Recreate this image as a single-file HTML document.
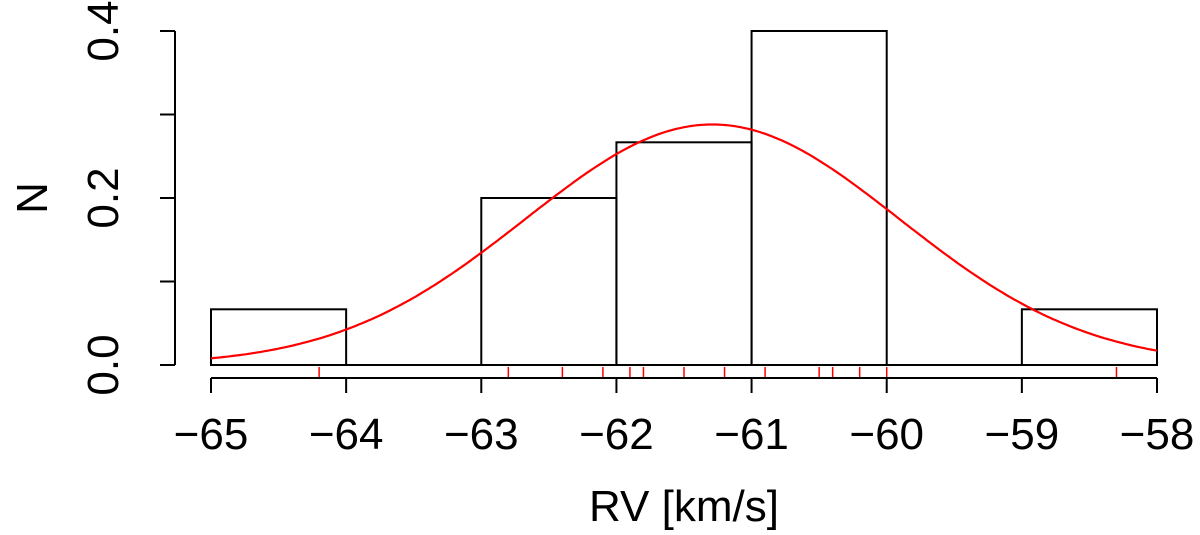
<!DOCTYPE html>
<html><head><meta charset="utf-8"><style>
html,body{margin:0;padding:0;background:#fff;}
svg{display:block;font-family:"Liberation Sans",Arial,sans-serif;}
</style></head><body>
<svg id="chart" width="1200" height="535" viewBox="0 0 1200 535">
<g id="bars"></g>
<g id="rug"></g>
<g id="curve"></g>
<g id="xaxis"></g>
<g id="yaxis"></g>
<text x="684" y="521" font-size="44" text-anchor="middle">RV [km/s]</text>
<text transform="translate(47,198) rotate(-90)" font-size="44" text-anchor="middle">N</text>
</svg>
<script>
const binEdges=[-65,-64,-63,-62,-61,-60,-59,-58];
const densities=[0.0667,0,0.2,0.2667,0.4,0,0.0667];
const rugValues=[-64.2,-62.8,-62.4,-62.1,-61.9,-61.8,-61.5,-61.2,-60.9,-60.5,-60.4,-60.2,-60.0,-58.3];
const fitMean=[-61.29];
const fitSd=[1.385];
const xTicks=[-65,-64,-63,-62,-61,-60,-59,-58];
const yTicks=[0,0.1,0.2,0.3,0.4];
const yLabels=["0.0","","0.2","","0.4"];

const NS="http://www.w3.org/2000/svg";
const X=v=>211+(v+65)*(1157-211)/7;
const Y=v=>365-v*(365-31)/0.4;
function mk(tag,attrs,parent){const e=document.createElementNS(NS,tag);for(const k in attrs)e.setAttribute(k,attrs[k]);parent.appendChild(e);return e;}

const bars=document.getElementById('bars');
densities.forEach((d,i)=>{
  if(d<=0)return;
  const r=mk('rect',{x:X(binEdges[i]),y:Y(d),width:X(binEdges[i+1])-X(binEdges[i]),height:Y(0)-Y(d),fill:'none',stroke:'#000','stroke-width':2},bars);
  
  
});
const bl=mk('line',{x1:X(-65),x2:X(-58),y1:Y(0),y2:Y(0),stroke:'#000','stroke-width':2},bars);



const rug=document.getElementById('rug');
rugValues.forEach(v=>{
  const l=mk('line',{x1:X(v),x2:X(v),y1:367,y2:378,stroke:'#f00','stroke-width':1.5},rug);
  
  
});

const curve=document.getElementById('curve');
let pts=[];
for(let i=0;i<=300;i++){const v=-65+7*i/300;const d=Math.exp(-Math.pow(v-fitMean[0],2)/(2*fitSd[0]*fitSd[0]))/(fitSd[0]*Math.sqrt(2*Math.PI));pts.push(X(v).toFixed(1)+','+Y(d).toFixed(1));}
const p=mk('polyline',{points:pts.join(' '),fill:'none',stroke:'#f00','stroke-width':2.2},curve);



const xa=document.getElementById('xaxis');
mk('line',{x1:X(-65),x2:X(-58),y1:378,y2:378,stroke:'#000','stroke-width':2},xa);
xTicks.forEach(t=>{
  mk('line',{x1:X(t),x2:X(t),y1:378,y2:393,stroke:'#000','stroke-width':2},xa);
  const tx=mk('text',{x:X(t),y:449,'font-size':44,'text-anchor':'middle'},xa);
  tx.textContent=String(t).replace('-','\u2212');
  
  
});
const ya=document.getElementById('yaxis');
mk('line',{x1:175,x2:175,y1:Y(0),y2:Y(0.4),stroke:'#000','stroke-width':2},ya);
yTicks.forEach((t,i)=>{
  mk('line',{x1:160,x2:175,y1:Y(t),y2:Y(t),stroke:'#000','stroke-width':2},ya);
  if(yLabels[i]){
    const tx=mk('text',{transform:`translate(118,${Y(t)}) rotate(-90)`,'font-size':44,'text-anchor':'middle'},ya);
    tx.textContent=yLabels[i];
    
    
  }
});
</script>
</body></html>
